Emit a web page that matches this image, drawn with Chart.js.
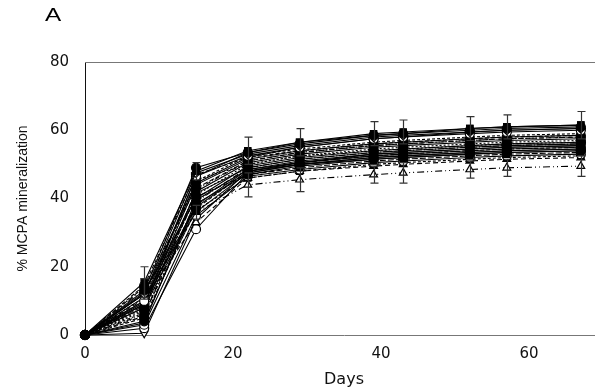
<!DOCTYPE html>
<html>
<head>
<meta charset="utf-8">
<script src="https://cdn.jsdelivr.net/npm/chart.js@4.4.1/dist/chart.umd.min.js"></script>
<style>
  html, body { margin: 0; background: #fff; overflow: hidden; }
  #wrap { width: 595px; height: 392px; overflow: hidden; }
</style>
</head>
<body>
<div id="wrap"><canvas id="chart" width="612" height="392"></canvas></div>
<script>
const days = [0, 8, 15, 22, 29, 39, 43, 52, 57, 67];
const xTicks = [0, 20, 40, 60];
const yTicks = [0, 20, 40, 60, 80];

// % MCPA mineralized, one array per soil
const s01 = [0, 15.5, 48.0, 54.0, 56.5, 59.0, 59.5, 60.5, 61.0, 61.5];
const s02 = [0, 13.0, 49.0, 53.5, 56.0, 58.5, 59.0, 60.0, 60.5, 61.0];
const s03 = [0, 12.0, 47.5, 53.0, 55.5, 58.0, 58.5, 59.5, 60.0, 60.5];
const s04 = [0, 10.0, 46.5, 52.5, 55.0, 57.5, 58.0, 59.0, 59.5, 60.0];
const s05 = [0, 11.0, 45.0, 52.5, 54.5, 56.5, 57.0, 58.0, 58.5, 59.0];
const s06 = [0, 9.0, 44.0, 51.5, 54.0, 56.0, 56.5, 57.5, 58.0, 58.5];
const s07 = [0, 14.0, 43.0, 51.0, 53.5, 55.5, 56.0, 57.0, 57.5, 58.0];
const s08 = [0, 8.0, 42.0, 50.5, 53.0, 55.0, 55.5, 56.5, 57.0, 57.5];
const s09 = [0, 7.0, 41.0, 50.0, 52.5, 54.5, 55.0, 56.0, 56.5, 57.0];
const s10 = [0, 12.5, 40.0, 49.5, 52.0, 54.0, 54.5, 55.5, 56.0, 56.5];
const s11 = [0, 6.0, 39.0, 49.0, 51.5, 53.5, 54.0, 55.0, 55.5, 56.0];
const s12 = [0, 9.5, 38.0, 48.5, 51.0, 53.0, 53.5, 54.5, 55.0, 55.5];
const s13 = [0, 5.0, 37.0, 48.0, 50.5, 52.5, 53.0, 54.0, 54.5, 55.0];
const s14 = [0, 11.0, 36.0, 47.5, 50.0, 52.0, 52.5, 53.5, 54.0, 54.5];
const s15 = [0, 4.0, 38.5, 47.0, 49.5, 51.5, 52.0, 53.0, 53.5, 54.0];
const s16 = [0, 8.5, 40.5, 47.0, 49.0, 51.0, 51.5, 52.5, 53.0, 53.5];
const s17 = [0, 3.0, 35.0, 46.5, 48.5, 50.5, 51.0, 52.0, 52.5, 53.0];
const s18 = [0, 6.5, 36.5, 46.0, 48.0, 50.0, 50.5, 51.5, 52.0, 52.5];
const s19 = [0, 10.5, 33.0, 46.0, 48.0, 49.5, 50.0, 51.0, 51.5, 52.0];
const s20 = [0, 2.0, 31.0, 47.5, 50.0, 52.0, 52.5, 53.5, 54.0, 54.5];
const s21 = [0, 0.5, 34.0, 48.0, 50.5, 53.0, 53.5, 54.5, 55.0, 55.5];
const s22 = [0, 13.5, 36.0, 44.0, 45.5, 47.0, 47.5, 48.5, 49.0, 49.5];
const s23 = [0, 9.0, 46.5, 53.5, 56.5, 58.5, 59.0, 60.5, 61.0, 61.5];
const s24 = [0, 7.5, 45.5, 50.0, 52.5, 54.0, 54.5, 55.5, 56.0, 56.5];
const s25 = [0, 12.0, 44.5, 52.0, 55.0, 57.5, 58.0, 59.5, 60.0, 60.5];
const s26 = [0, 5.5, 42.5, 51.0, 53.5, 55.5, 56.0, 57.0, 57.5, 58.0];
const s27 = [0, 10.0, 41.5, 49.0, 51.5, 53.5, 54.0, 55.0, 55.5, 56.0];
const s28 = [0, 3.5, 39.5, 48.5, 50.5, 52.5, 53.0, 54.0, 54.5, 55.0];
const s29 = [0, 14.5, 47.0, 52.0, 54.0, 56.0, 56.5, 57.5, 58.0, 58.5];
const s30 = [0, 8.0, 37.5, 48.0, 50.0, 51.5, 52.0, 53.0, 53.5, 54.0];

// standard deviations shown as error bars
const err01 = [0, 4.5, 2.5, 4.0, 4.0, 3.5, 3.5, 3.5, 3.5, 4.0];
const err22 = [0, 3.0, 2.0, 3.5, 3.5, 2.5, 3.0, 2.5, 2.5, 3.0];

const soils = [s01, s02, s03, s04, s05, s06, s07, s08, s09, s10, s11, s12, s13, s14, s15,
               s16, s17, s18, s19, s20, s21, s22, s23, s24, s25, s26, s27, s28, s29, s30];
const errors = { 0: err01, 21: err22 };

// marker / line style per soil: [pointStyle, filled, dash, rotation]
const styles = [
  ['rect', true, [], 0], ['circle', true, [], 0], ['rectRot', false, [], 0], ['circle', false, [], 0],
  ['rect', true, [3, 2], 0], ['triangle', true, [], 0], ['circle', true, [5, 2], 0], ['rect', true, [], 0],
  ['circle', true, [2, 2], 0], ['rectRot', true, [], 0], ['circle', true, [6, 2, 1, 2], 0], ['rect', true, [], 0],
  ['circle', true, [4, 2], 0], ['triangle', true, [], 0], ['circle', true, [], 0], ['rect', true, [6, 2], 0],
  ['circle', false, [], 0], ['rect', true, [3, 2], 0], ['triangle', false, [5, 3], 0], ['circle', false, [], 0],
  ['triangle', false, [], 180], ['triangle', false, [7, 3, 1, 3, 1, 3], 0], ['rect', true, [], 0], ['circle', true, [2, 2], 0],
  ['circle', true, [], 0], ['rect', true, [5, 2, 1, 2], 0], ['triangle', true, [], 0], ['rect', true, [], 0],
  ['circle', false, [4, 2], 0], ['circle', true, [], 0]
];

const datasets = soils.map((vals, i) => {
  const [shape, filled, dash, rot] = styles[i];
  return {
    label: 'Soil ' + (i + 1),
    data: days.map((d, j) => ({ x: d, y: vals[j] })),
    borderColor: '#000',
    backgroundColor: '#000',
    borderWidth: 1.1,
    borderDash: dash,
    pointStyle: shape,
    pointRotation: rot,
    pointRadius: 4.5,
    pointBorderWidth: 1.2,
    pointBorderColor: '#000',
    pointBackgroundColor: filled ? '#000' : '#fff',
    tension: 0,
    clip: false,
    errors: errors[i] || null
  };
});

const errorBars = {
  id: 'errorBars',
  afterDatasetsDraw(chart) {
    const { ctx, scales: { x, y } } = chart;
    ctx.save();
    ctx.strokeStyle = '#333';
    ctx.lineWidth = 1.2;
    chart.data.datasets.forEach(ds => {
      if (!ds.errors) return;
      ds.data.forEach((p, j) => {
        const e = ds.errors[j];
        if (!e) return;
        const px = Math.round(x.getPixelForValue(p.x)) + 0.5;
        const top = y.getPixelForValue(p.y + e);
        const bot = y.getPixelForValue(p.y - e);
        ctx.beginPath();
        ctx.moveTo(px, top); ctx.lineTo(px, bot);
        ctx.moveTo(px - 4, top); ctx.lineTo(px + 4, top);
        ctx.moveTo(px - 4, bot); ctx.lineTo(px + 4, bot);
        ctx.stroke();
      });
    });
    ctx.restore();
  }
};

const frame = {
  id: 'frame',
  afterDraw(chart) {
    const { ctx, chartArea: a } = chart;
    ctx.save();
    ctx.strokeStyle = '#777';
    ctx.lineWidth = 1;
    ctx.beginPath();
    ctx.moveTo(a.left, a.top + 0.5);
    ctx.lineTo(a.right, a.top + 0.5);
    ctx.stroke();
    // panel letter, slightly stretched like the source figure
    ctx.fillStyle = '#000';
    ctx.font = '18px "Liberation Sans", Arial, sans-serif';
    ctx.textBaseline = 'top';
    ctx.translate(45, 7);
    ctx.scale(1.35, 1);
    ctx.fillText('A', 0, 0);
    ctx.restore();
  }
};

new Chart(document.getElementById('chart'), {
  type: 'line',
  data: { datasets },
  plugins: [errorBars, frame],
  options: {
    responsive: false,
    animation: false,
    layout: { padding: { top: 62, right: 9, left: 0, bottom: 0 } },
    plugins: { legend: { display: false }, tooltip: { enabled: false } },
    scales: {
      x: {
        type: 'linear',
        min: 0,
        max: 70,
        afterBuildTicks: s => { s.ticks = xTicks.map(v => ({ value: v })); },
        afterFit: s => { s.height = 57; },
        grid: { display: false, drawTicks: true, tickLength: 4, tickColor: '#333' },
        border: { color: '#777', width: 1 },
        ticks: { color: '#111', padding: 6, font: { family: 'DejaVu Sans', size: 15 } },
        title: { display: true, text: 'Days', color: '#111', padding: { top: 0, bottom: 3 },
                 font: { family: 'DejaVu Sans', size: 16 } }
      },
      y: {
        min: 0,
        max: 80,
        afterBuildTicks: s => { s.ticks = yTicks.map(v => ({ value: v })); },
        afterFit: s => { s.width = 85; },
        grid: { display: false, drawTicks: true, tickLength: 6, tickColor: '#333' },
        border: { color: '#111', width: 1 },
        ticks: { color: '#111', padding: 10, font: { family: 'DejaVu Sans', size: 15 } },
        title: { display: true, text: '% MCPA mineralization', color: '#111', padding: { top: 15, bottom: 0 },
                 font: { family: 'Liberation Sans', size: 14 } }
      }
    }
  }
});
</script>
</body>
</html>
